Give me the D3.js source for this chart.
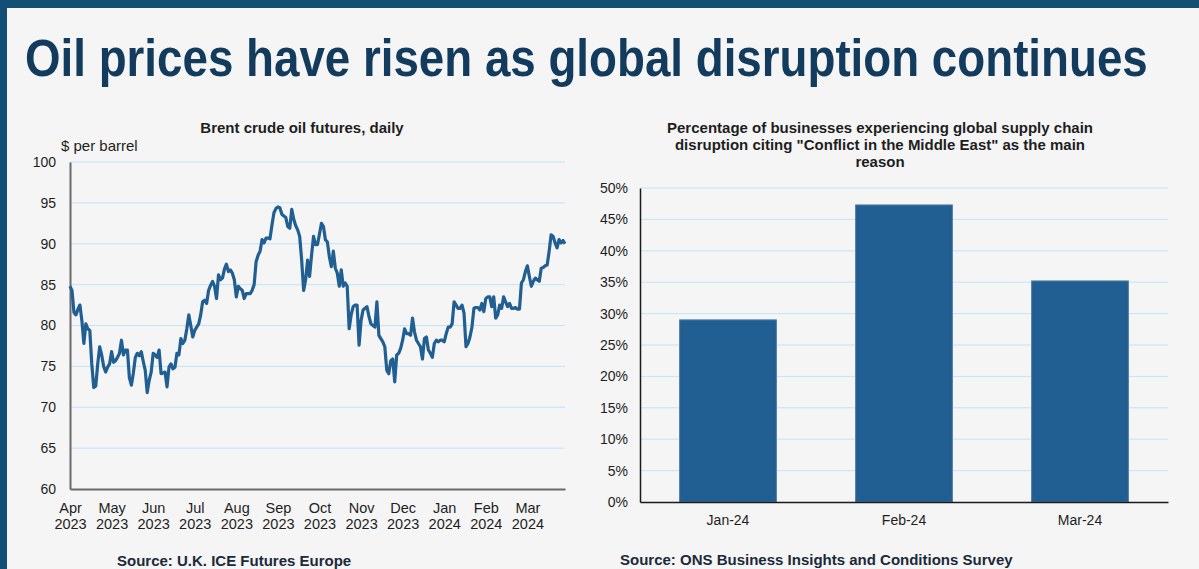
<!DOCTYPE html>
<html>
<head>
<meta charset="utf-8">
<script src="https://cdn.jsdelivr.net/npm/d3@7"></script>
<style>
  html, body { margin: 0; padding: 0; background: #f5f5f5; }
  svg { display: block; font-family: "Liberation Sans", Arial, sans-serif; }
</style>
</head>
<body>
<svg id="chart" width="1199" height="569"></svg>
<script>
// Brent crude oil futures, daily closes ($ per barrel), one value per trading day
const brentPrices = [
  84.8, 84.3, 81.6, 81.3, 82.0, 82.5, 80.6, 77.8, 80.2, 79.6,
  79.4, 75.3, 72.4, 72.6, 75.3, 77.4, 76.4, 75.0, 74.3, 74.9,
  75.3, 76.8, 75.5, 75.7, 76.1, 76.6, 78.2, 76.4, 77.0, 77.0,
  73.6, 72.7, 74.2, 76.1, 76.6, 76.3, 76.8, 75.6, 74.5, 71.8,
  73.3, 74.3, 76.6, 76.4, 76.1, 77.0, 74.1, 74.2, 74.3, 72.5,
  74.9, 75.3, 74.7, 74.9, 76.6, 76.4, 78.4, 77.8, 78.2, 79.6,
  81.3, 80.0, 78.6, 79.4, 79.8, 80.2, 81.3, 82.9, 83.1, 82.7,
  84.3, 84.9, 85.4, 84.8, 83.3, 86.2, 85.6, 85.8, 86.9, 87.5,
  86.6, 86.8, 86.4, 85.6, 83.5, 84.8, 84.5, 84.3, 83.3, 83.9,
  83.9, 83.9, 84.3, 85.0, 87.8, 88.6, 89.1, 90.5, 90.1, 90.7,
  90.7, 90.6, 92.3, 93.8, 94.3, 94.5, 94.4, 93.6, 93.4, 93.2,
  92.1, 91.9, 94.2, 93.0, 92.2, 91.7, 90.9, 88.0, 84.3, 85.6,
  88.0, 86.0, 88.6, 90.9, 89.9, 89.9, 91.2, 92.5, 92.1, 90.5,
  90.2, 88.4, 87.2, 89.1, 87.0, 86.4, 84.8, 86.8, 84.8, 85.2,
  84.8, 79.6, 81.3, 82.3, 82.5, 82.5, 77.6, 80.6, 81.9, 82.1,
  82.3, 81.1, 80.2, 80.0, 79.8, 82.9, 78.8, 78.4, 78.0, 77.4,
  74.5, 74.1, 75.7, 75.9, 73.1, 76.4, 76.6, 77.2, 78.2, 79.6,
  79.0, 79.0, 78.8, 80.9, 79.2, 78.2, 77.8, 77.4, 75.9, 78.4,
  78.6, 77.0, 76.6, 76.1, 77.8, 78.2, 78.0, 78.2, 78.2, 78.0,
  79.0, 79.8, 79.8, 80.2, 82.9, 82.5, 82.1, 82.1, 82.5, 81.5,
  77.4, 77.8, 78.6, 79.8, 82.1, 82.2, 82.2, 81.9, 82.7, 81.7,
  83.3, 83.5, 83.5, 82.3, 83.5, 80.9, 81.3, 82.5, 82.1, 83.5,
  82.9, 82.3, 82.7, 82.1, 82.1, 82.2, 82.0, 82.0, 85.2, 85.6,
  86.6, 87.3, 86.0, 84.8, 85.4, 85.8, 85.6, 85.4, 87.0, 87.1,
  87.3, 87.4, 89.1, 91.1, 90.9, 90.1, 89.5, 90.5, 90.1, 90.4,
  90.0
];

// Month labels sit every 21 trading days along the price axis
const monthTickIndex = [0, 21, 42, 63, 84, 105, 126, 147, 168, 189, 210, 231];
const monthTickMonth = ["Apr", "May", "Jun", "Jul", "Aug", "Sep", "Oct", "Nov", "Dec", "Jan", "Feb", "Mar"];
const monthTickYear = ["2023", "2023", "2023", "2023", "2023", "2023", "2023", "2023", "2023", "2024", "2024", "2024"];
const priceTicks = [60, 65, 70, 75, 80, 85, 90, 95, 100];

// Share of businesses citing conflict in the Middle East (%)
const surveyMonths = ["Jan-24", "Feb-24", "Mar-24"];
const surveyShares = [29.0, 47.3, 35.2];
const shareTicks = [0, 5, 10, 15, 20, 25, 30, 35, 40, 45, 50];

const svg = d3.select("#chart");
const W = 1199, H = 569;
const navy = "#134e74";
const seriesBlue = "#215f92";
const gridBlue = "#bfe5f7";
const textDark = "#1e1e1e";
const FONT = "Liberation Sans, Arial, sans-serif";

svg.append("rect").attr("width", W).attr("height", H).attr("fill", "#f5f5f5");
// Frame: top band and left strip
svg.append("rect").attr("x", 0).attr("y", 0).attr("width", W).attr("height", 8).attr("fill", navy);
svg.append("rect").attr("x", 0).attr("y", 0).attr("width", 7).attr("height", H).attr("fill", navy);

// Headline, squeezed horizontally to fit its column
const headline = svg.append("text")
  .attr("x", 0).attr("y", 0)
  .attr("font-size", 51).attr("font-weight", "bold")
  .attr("fill", "#123b5d")
  .text("Oil prices have risen as global disruption continues");
const naturalWidth = headline.node().getComputedTextLength();
const squeeze = 1123 / naturalWidth;
headline.attr("transform", `translate(25,76) scale(${squeeze},1)`);

// ---------- Left panel: Brent line chart ----------
const L = { left: 70, right: 565, top: 162, bottom: 489 };
const x = d3.scaleLinear().domain([0, brentPrices.length - 1]).range([L.left, L.right]);
const y = d3.scaleLinear().domain([60, 100]).range([L.bottom, L.top]);

const left = svg.append("g");
left.append("text")
  .attr("x", 302).attr("y", 133)
  .attr("text-anchor", "middle").attr("font-size", 15).attr("font-weight", "bold")
  .attr("fill", textDark).text("Brent crude oil futures, daily");
left.append("text")
  .attr("x", 61).attr("y", 151)
  .attr("font-size", 15).attr("fill", textDark).text("$ per barrel");

// horizontal grid
left.append("g").selectAll("line").data(priceTicks.filter(d => d > 60)).join("line")
  .attr("x1", L.left).attr("x2", L.right)
  .attr("y1", d => y(d)).attr("y2", d => y(d))
  .attr("stroke", gridBlue).attr("stroke-width", 1);

// y axis
const yAxisL = left.append("g").attr("transform", `translate(${L.left},0)`)
  .call(d3.axisLeft(y).tickValues(priceTicks).tickSize(0).tickPadding(14));
yAxisL.select(".domain").attr("stroke", "#6a6a6a").attr("stroke-width", 2);
yAxisL.selectAll("text").attr("font-size", 14).attr("fill", textDark).attr("font-family", FONT);

// x axis
const xAxisL = left.append("g").attr("transform", `translate(0,${L.bottom})`)
  .call(d3.axisBottom(x).tickValues(monthTickIndex).tickSize(0).tickFormat(() => ""));
xAxisL.select(".domain").attr("stroke", "#6a6a6a").attr("stroke-width", 2);
xAxisL.selectAll(".tick").each(function (d, i) {
  const t = d3.select(this).append("text")
    .attr("text-anchor", "middle").attr("font-size", 14.5).attr("fill", textDark)
    .attr("font-family", FONT);
  t.append("tspan").attr("x", 0).attr("y", 24).text(monthTickMonth[i]);
  t.append("tspan").attr("x", 0).attr("y", 40).text(monthTickYear[i]);
});

// price line
left.append("path")
  .datum(brentPrices)
  .attr("fill", "none")
  .attr("stroke", seriesBlue)
  .attr("stroke-width", 3.2)
  .attr("stroke-linejoin", "round")
  .attr("d", d3.line().x((d, i) => x(i)).y(d => y(d)));

left.append("text")
  .attr("x", 117).attr("y", 566)
  .attr("font-size", 15).attr("font-weight", "bold").attr("fill", "#1b2a3a")
  .text("Source: U.K. ICE Futures Europe");

// ---------- Right panel: survey bar chart ----------
const R = { left: 640, right: 1168, top: 188, bottom: 502 };
const xb = d3.scaleBand().domain(surveyMonths).range([R.left, R.right]).paddingInner(0.45).paddingOuter(0.225);
const yb = d3.scaleLinear().domain([0, 50]).range([R.bottom, R.top]);

const right = svg.append("g");
const titleLines = [
  "Percentage of businesses experiencing global supply chain",
  "disruption citing \"Conflict in the Middle East\" as the main",
  "reason"
];
right.append("text")
  .attr("text-anchor", "middle").attr("font-size", 15).attr("font-weight", "bold").attr("fill", textDark)
  .selectAll("tspan").data(titleLines).join("tspan")
  .attr("x", 880).attr("y", (d, i) => 133 + i * 17)
  .text(d => d);

right.append("g").selectAll("line").data(shareTicks.filter(d => d > 0)).join("line")
  .attr("x1", R.left).attr("x2", R.right)
  .attr("y1", d => yb(d)).attr("y2", d => yb(d))
  .attr("stroke", gridBlue).attr("stroke-width", 1);

right.append("g").selectAll("rect").data(surveyShares).join("rect")
  .attr("x", (d, i) => xb(surveyMonths[i]))
  .attr("width", xb.bandwidth())
  .attr("y", d => yb(d))
  .attr("height", d => yb(0) - yb(d))
  .attr("fill", seriesBlue)
  .attr("stroke", "#4f7ea8").attr("stroke-width", 1);

const yAxisR = right.append("g").attr("transform", `translate(${R.left},0)`)
  .call(d3.axisLeft(yb).tickValues(shareTicks).tickSize(0).tickPadding(12).tickFormat(d => d + "%"));
yAxisR.select(".domain").attr("stroke", "#1a1a1a").attr("stroke-width", 1.5);
yAxisR.selectAll("text").attr("font-size", 14).attr("fill", textDark).attr("font-family", FONT);

const xAxisR = right.append("g").attr("transform", `translate(0,${R.bottom})`)
  .call(d3.axisBottom(xb).tickSize(0).tickPadding(13));
xAxisR.select(".domain").attr("stroke", "#1a1a1a").attr("stroke-width", 1.5);
xAxisR.selectAll("text").attr("font-size", 14).attr("fill", textDark).attr("font-family", FONT);

right.append("text")
  .attr("x", 620).attr("y", 565)
  .attr("font-size", 15).attr("font-weight", "bold").attr("fill", "#1b2a3a")
  .text("Source: ONS Business Insights and Conditions Survey");
</script>
</body>
</html>
